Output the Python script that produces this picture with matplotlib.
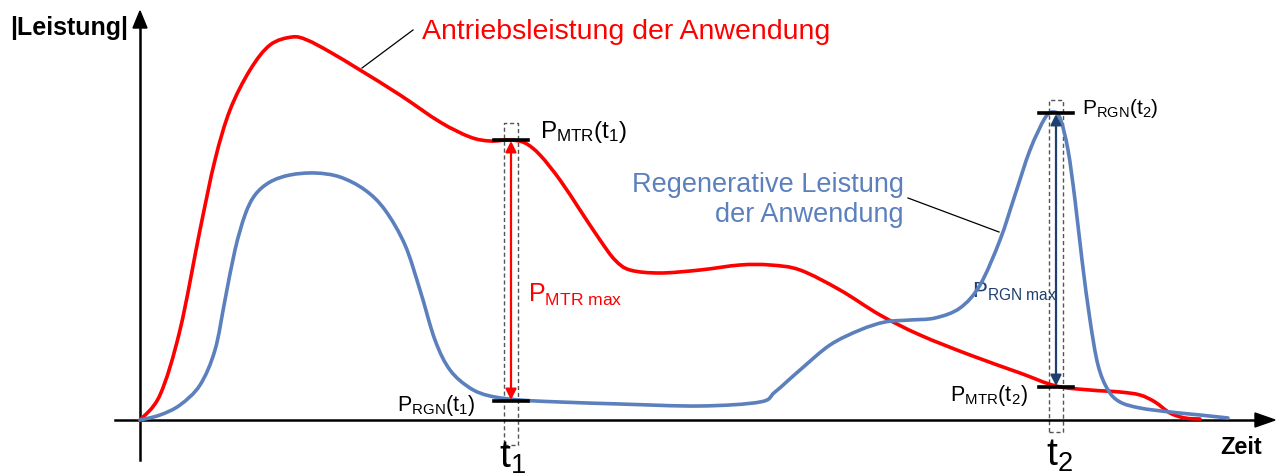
import matplotlib
matplotlib.use("Agg")
import matplotlib.pyplot as plt
from matplotlib.path import Path
from matplotlib.patches import PathPatch
import numpy as np

plt.rcParams['font.family'] = ['Liberation Sans', 'DejaVu Sans']
plt.rcParams['mathtext.fontset'] = 'custom'
plt.rcParams['mathtext.rm'] = 'Liberation Sans'
plt.rcParams['mathtext.it'] = 'Liberation Sans'

# time / power in arbitrary units (origin at the axis cross)
t_red = [0, 20, 40, 60, 75, 90, 110, 130, 152, 167, 190, 220, 260, 300, 330, 350,
         370, 385, 400, 420, 440, 460, 475, 490, 520, 560, 600, 630, 660, 700, 740,
         780, 830, 880, 916, 950, 980, 1000, 1015, 1030, 1045, 1060]
p_red = [0, 25, 90, 190, 260, 310, 350, 375, 383, 380, 368, 350, 325, 298, 283, 279,
         280, 277, 265, 240, 210, 180, 160, 150, 147, 150, 155, 155, 150, 130, 105,
         85, 65, 47, 34, 30, 28, 25, 18, 7, 2, 1]

t_blue = [0, 20, 40, 60, 75, 85, 95, 105, 115, 130, 150, 175, 200, 225, 245, 265,
          280, 295, 310, 330, 350, 380, 420, 480, 560, 620, 635, 660, 690, 720, 745,
          770, 795, 820, 840, 860, 875, 890, 905, 913, 920, 928, 935, 942, 950, 958,
          968, 980, 1000, 1030, 1060, 1088]
p_blue = [0, 5, 15, 35, 70, 120, 170, 205, 225, 238, 245, 247, 243, 230, 210, 175,
          130, 80, 50, 32, 24, 20, 18, 16, 14, 18, 28, 50, 75, 90, 98, 100, 102, 112,
          135, 180, 225, 270, 302, 308, 302, 270, 220, 160, 100, 55, 30, 18, 12, 8,
          5, 2]

t1, t2 = 371, 916
p_mtr_t1, p_rgn_t1 = 280, 19
p_rgn_t2, p_mtr_t2 = 307, 33


def smooth_path(x, y):
    # bezier path through the read points (catmull-rom handles)
    pts = np.column_stack([x, y]).astype(float)
    ext = np.vstack([pts[0], pts, pts[-1]])
    verts = [pts[0]]
    codes = [Path.MOVETO]
    for i in range(1, len(ext) - 2):
        p0, p1, p2, p3 = ext[i - 1], ext[i], ext[i + 1], ext[i + 2]
        verts += [p1 + (p2 - p0) / 6, p2 - (p3 - p1) / 6, p2]
        codes += [Path.CURVE4] * 3
    return Path(verts, codes)


fig = plt.figure(figsize=(12.78, 4.75), dpi=100)
ax = fig.add_axes([0, 0, 1, 1])
ax.set_xlim(-140, 1138)
ax.set_ylim(-55, 420)
ax.axis('off')

red = '#ff0000'
blue = '#5b80bd'
navy = '#1f3f6e'

# axes with arrow heads
ax.plot([0, 0], [-40, 395], color='black', lw=1.8, zorder=3)
ax.fill([-7, 7, 0], [392, 392, 409], color='black', zorder=3)
ax.plot([-25, 1115], [0, 0], color='black', lw=1.8, zorder=3)
ax.fill([1115, 1115, 1135], [-7, 7, 0], color='black', zorder=3)

ax.add_patch(PathPatch(smooth_path(t_red, p_red), fc='none', ec=red, lw=2.6,
                       zorder=4, capstyle='round'))
ax.add_patch(PathPatch(smooth_path(t_blue, p_blue), fc='none', ec=blue, lw=2.6,
                       zorder=4, capstyle='round'))

# dashed boxes around the two instants
for tc, top, bot in [(t1, 297, -25), (t2, 320, -12)]:
    ax.plot([tc - 7, tc + 7, tc + 7, tc - 7, tc - 7], [bot, bot, top, top, bot],
            ls=(0, (3, 2)), color='#555555', lw=1.0, zorder=2)

# level bars
for tc, p in [(t1, p_mtr_t1), (t1, p_rgn_t1), (t2, p_rgn_t2), (t2, p_mtr_t2)]:
    ax.plot([tc - 17, tc + 17], [p, p], color='black', lw=2.6, zorder=5)

ax.annotate('', xy=(t1, p_mtr_t1 - 1), xytext=(t1, p_rgn_t1 + 1),
            arrowprops=dict(arrowstyle='<|-|>', color=red, lw=1.6,
                            mutation_scale=16, shrinkA=0, shrinkB=0), zorder=6)
ax.annotate('', xy=(t2, p_rgn_t2 - 1), xytext=(t2, p_mtr_t2 + 1),
            arrowprops=dict(arrowstyle='<|-|>', color=navy, lw=1.6,
                            mutation_scale=16, shrinkA=0, shrinkB=0), zorder=6)

# text
ax.text(-130, 392, '|Leistung|', fontsize=18, fontweight='bold', va='center')
ax.text(1080, -28, 'Zeit', fontsize=17, fontweight='bold', va='center')
ax.text(t1 + 2, -38, r't$_{1}$', fontsize=28, ha='center', va='center')
ax.text(t2 + 3, -36, r't$_{2}$', fontsize=28, ha='center', va='center')

ax.text(282, 388, 'Antriebsleistung der Anwendung', color=red, fontsize=20.5,
        va='center')
ax.plot([222, 273], [352, 390], color='black', lw=0.9)
ax.text(764, 220, 'Regenerative Leistung\nder Anwendung', color=blue, fontsize=19.5,
        ha='right', va='center', multialignment='right', linespacing=1.2)
ax.plot([768, 859], [222, 188], color='black', lw=0.9)

ax.text(400, 288, r'P$_{\mathrm{MTR}}$(t$_{1}$)', fontsize=17.5, va='center')
ax.text(336, 15, r'P$_{\mathrm{RGN}}$(t$_{1}$)', fontsize=15.5, ha='right', va='center')
ax.text(942, 311, r'P$_{\mathrm{RGN}}$(t$_{2}$)', fontsize=15, va='center')
ax.text(888, 25, r'P$_{\mathrm{MTR}}$(t$_{2}$)', fontsize=15.5, ha='right', va='center')
ax.text(388, 125, r'P$_{\mathrm{MTR\ max}}$', fontsize=18, color=red, va='center')
ax.text(832, 128, r'P$_{\mathrm{RGN\ max}}$', fontsize=16, color=navy, va='center')

fig.savefig('out.png', dpi=100)
